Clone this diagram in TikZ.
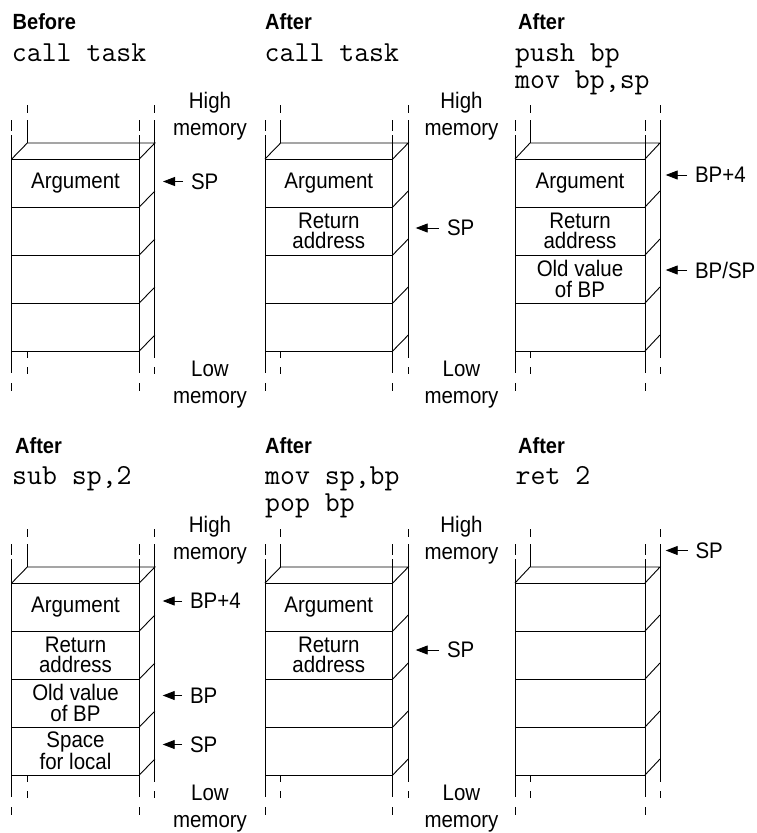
\documentclass[tikz,border=0pt]{standalone}
\usepackage{fontspec}
\setmainfont{Liberation Sans}[FakeStretch=0.91]
\usetikzlibrary{arrows.meta,calc}

\begin{document}
\begin{tikzpicture}[
  x=1pt, y=-1pt,
  frm/.style={line width=0.9pt},
  ptr/.style={-{Triangle[length=12pt,width=9pt]}, line width=0.9pt},
  hdr/.style={anchor=base west, inner sep=0pt, font=\fontsize{22}{24}\selectfont\bfseries},
  code/.style={anchor=base west, inner sep=0pt, font=\fontsize{29}{30}\selectfont\ttfamily},
  cell/.style={align=center, inner sep=0pt, font=\fontsize{22.5}{20.5}\selectfont},
  mem/.style={align=center, inner sep=0pt, font=\fontsize{22.5}{27}\selectfont},
  lbl/.style={anchor=west, inner sep=0pt, outer xsep=8pt, font=\fontsize{22.5}{24}\selectfont}
]
  \useasboundingbox (0,0) rectangle (756,833);

  % the six stack frames: front left x / front top y / width / depth
  \foreach \fl/\tp/\w/\d in {11.7/159/127.6/15.6, 265/159/127.7/15.6, 515/159/130/15,
                             11.7/583/127.6/15.6, 265/583/127.7/15.6, 515/583/130/15}{
    \foreach \k in {0,...,4}
      \draw[frm] (\fl,\tp+48*\k) -- (\fl+\w,\tp+48*\k);
    \foreach \k in {1,...,4}
      \draw[frm] (\fl+\w,\tp+48*\k) -- ++(\d,-16);
    \draw[frm] (\fl,\tp) -- ++(\d,-16) -- ++(\w,0) -- (\fl+\w,\tp);
    % front rails
    \foreach \xx in {\fl,\fl+\w}
      \draw[frm] (\xx,\tp-39) -- (\xx,\tp-28) (\xx,\tp-24) -- (\xx,\tp+214)
                 (\xx,\tp+224) -- (\xx,\tp+232);
    % back rails
    \draw[frm] (\fl+\d,\tp-54) -- (\fl+\d,\tp-46) (\fl+\d,\tp-39) -- (\fl+\d,\tp-16)
               (\fl+\d,\tp+192) -- (\fl+\d,\tp+199) (\fl+\d,\tp+208) -- (\fl+\d,\tp+215);
    \draw[frm] (\fl+\w+\d,\tp-54) -- (\fl+\w+\d,\tp-46) (\fl+\w+\d,\tp-39) -- (\fl+\w+\d,\tp+199)
               (\fl+\w+\d,\tp+208) -- (\fl+\w+\d,\tp+215);
  }

  % top row
  \node[hdr] (h1) at (12.5,29) {Before};
  \node[code] (c1) at (11.7,61) {call task};
  \node[hdr] (h2) at (265,29) {After};
  \node[code] (c2) at (264.5,61) {call task};
  \node[hdr] (h3) at (518,29) {After};
  \node[code] (c3a) at (515,61) {push bp};
  \node[code] (c3b) at (515,88.5) {mov bp,sp};

  \node[mem] (hi1) at (210,116.3) {High\\memory};
  \node[mem] (lo1) at (210,385) {Low\\memory};
  \node[mem] (hi2) at (461.5,116.3) {High\\memory};
  \node[mem] (lo2) at (461.5,385) {Low\\memory};

  \node[cell] (a1) at (75.5,183) {Argument};
  \node[cell] (a2) at (328.8,183) {Argument};
  \node[cell] (r2) at (328.8,231) {Return\\address};
  \node[cell] (a3) at (580,183) {Argument};
  \node[cell] (r3) at (580,231) {Return\\address};
  \node[cell] (o3) at (580,279) {Old value\\of BP};

  \node[lbl] (sp1) at (183,181.5) {SP};
  \coordinate (sp1t) at (163,181.5);
  \draw[ptr] (sp1) -- (sp1t);
  \node[lbl] (sp2) at (439,228) {SP};
  \coordinate (sp2t) at (415.7,228);
  \draw[ptr] (sp2) -- (sp2t);
  \node[lbl] (bp3) at (687,175) {BP+4};
  \coordinate (bp3t) at (665.7,175);
  \draw[ptr] (bp3) -- (bp3t);
  \node[lbl] (bs3) at (687,270) {BP/SP};
  \coordinate (bs3t) at (665.7,270);
  \draw[ptr] (bs3) -- (bs3t);

  % bottom row
  \node[hdr] (h4) at (15,453) {After};
  \node[code] (c4) at (12,484.5) {sub sp,2};
  \node[hdr] (h5) at (265,453) {After};
  \node[code] (c5a) at (265,484.5) {mov sp,bp};
  \node[code] (c5b) at (265,511.5) {pop bp};
  \node[hdr] (h6) at (518,453) {After};
  \node[code] (c6) at (515.5,484.5) {ret 2};

  \node[mem] (hi4) at (210,540.3) {High\\memory};
  \node[mem] (lo4) at (210,808.5) {Low\\memory};
  \node[mem] (hi5) at (461.5,540.3) {High\\memory};
  \node[mem] (lo5) at (461.5,808.5) {Low\\memory};

  \node[cell] (a4) at (75.5,607) {Argument};
  \node[cell] (r4) at (75.5,655) {Return\\address};
  \node[cell] (o4) at (75.5,703) {Old value\\of BP};
  \node[cell] (s4) at (75.5,751) {Space\\for local};
  \node[cell] (a5) at (328.8,607) {Argument};
  \node[cell] (r5) at (328.8,655) {Return\\address};

  \node[lbl] (bp4) at (182,601) {BP+4};
  \coordinate (bp4t) at (162.7,601);
  \draw[ptr] (bp4) -- (bp4t);
  \node[lbl] (b4) at (182,695.5) {BP};
  \coordinate (b4t) at (162.7,695.5);
  \draw[ptr] (b4) -- (b4t);
  \node[lbl] (sp4) at (182,744.5) {SP};
  \coordinate (sp4t) at (162.7,744.5);
  \draw[ptr] (sp4) -- (sp4t);
  \node[lbl] (sp5) at (439,650) {SP};
  \coordinate (sp5t) at (415.7,650);
  \draw[ptr] (sp5) -- (sp5t);
  \node[lbl] (sp6) at (687.5,550.5) {SP};
  \coordinate (sp6t) at (665.7,550.5);
  \draw[ptr] (sp6) -- (sp6t);
\end{tikzpicture}
\end{document}
